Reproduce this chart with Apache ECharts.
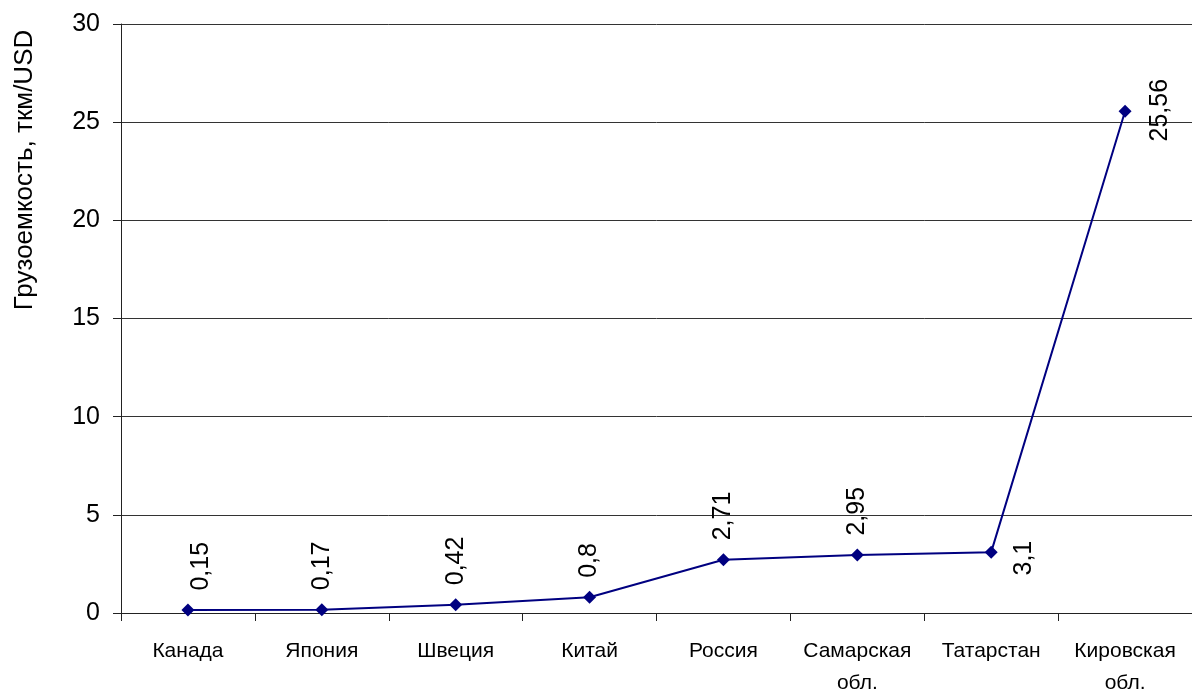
<!DOCTYPE html>
<html>
<head>
<meta charset="utf-8">
<script src="https://cdn.jsdelivr.net/npm/echarts@6/dist/echarts.min.js"></script>
<style>
html,body{margin:0;padding:0;background:#fff;}
#chart{width:1192px;height:699px;}
</style>
</head>
<body>
<div id="chart"></div>
<script>
const categories = ['Канада', 'Япония', 'Швеция', 'Китай', 'Россия', 'Самарская\nобл.', 'Татарстан', 'Кировская\nобл.'];
const values = [0.15, 0.17, 0.42, 0.8, 2.71, 2.95, 3.1, 25.56];
const yTicks = [0, 5, 10, 15, 20, 25, 30];
const yTitle = 'Грузоемкость, ткм/USD';

const FONT = '"Liberation Sans", Arial, sans-serif';
const topLabel = {position: ['50%', -13], align: 'left', verticalAlign: 'middle'};
const labelStyles = [
  {position: [20, -13], align: 'left', verticalAlign: 'middle'},
  topLabel, topLabel, topLabel, topLabel, topLabel,
  {position: [39.5, 12.5], align: 'center', verticalAlign: 'middle'},
  {position: [41.5, 5.5], align: 'center', verticalAlign: 'middle'}
];

const data = values.map((v, i) => ({value: v, label: labelStyles[i]}));

const chart = echarts.init(document.getElementById('chart'));
chart.setOption({
  animation: false,
  backgroundColor: '#fff',
  grid: {left: 121, right: 0, top: 24, bottom: 81, containLabel: false},
  xAxis: {
    type: 'category',
    data: categories,
    boundaryGap: true,
    axisLine: {lineStyle: {color: '#222', width: 1}},
    axisTick: {show: true, length: 8, inside: false, lineStyle: {color: '#222'}},
    axisLabel: {color: '#000', fontFamily: FONT, fontSize: 21, lineHeight: 32, margin: 22, interval: 0}
  },
  yAxis: {
    type: 'value',
    min: yTicks[0],
    max: yTicks[yTicks.length - 1],
    interval: yTicks[1] - yTicks[0],
    axisLine: {show: true, lineStyle: {color: '#222', width: 1}},
    axisTick: {show: true, length: 8, inside: false, lineStyle: {color: '#222'}},
    axisLabel: {color: '#000', fontFamily: FONT, fontSize: 25, margin: 21},
    splitLine: {show: true, lineStyle: {color: '#333', width: 1}}
  },
  graphic: [{
    type: 'text',
    x: 25,
    y: 170,
    rotation: Math.PI / 2,
    style: {text: yTitle, fill: '#000', font: '26px ' + FONT, align: 'center', verticalAlign: 'middle'}
  }],
  series: [{
    type: 'line',
    data: data,
    symbol: 'diamond',
    symbolSize: 13,
    itemStyle: {color: '#000080'},
    lineStyle: {color: '#000080', width: 2},
    label: {
      show: true,
      rotate: 90,
      color: '#000',
      fontFamily: FONT,
      fontSize: 25,
      formatter: p => String(p.value).replace('.', ',')
    }
  }]
});
</script>
</body>
</html>
